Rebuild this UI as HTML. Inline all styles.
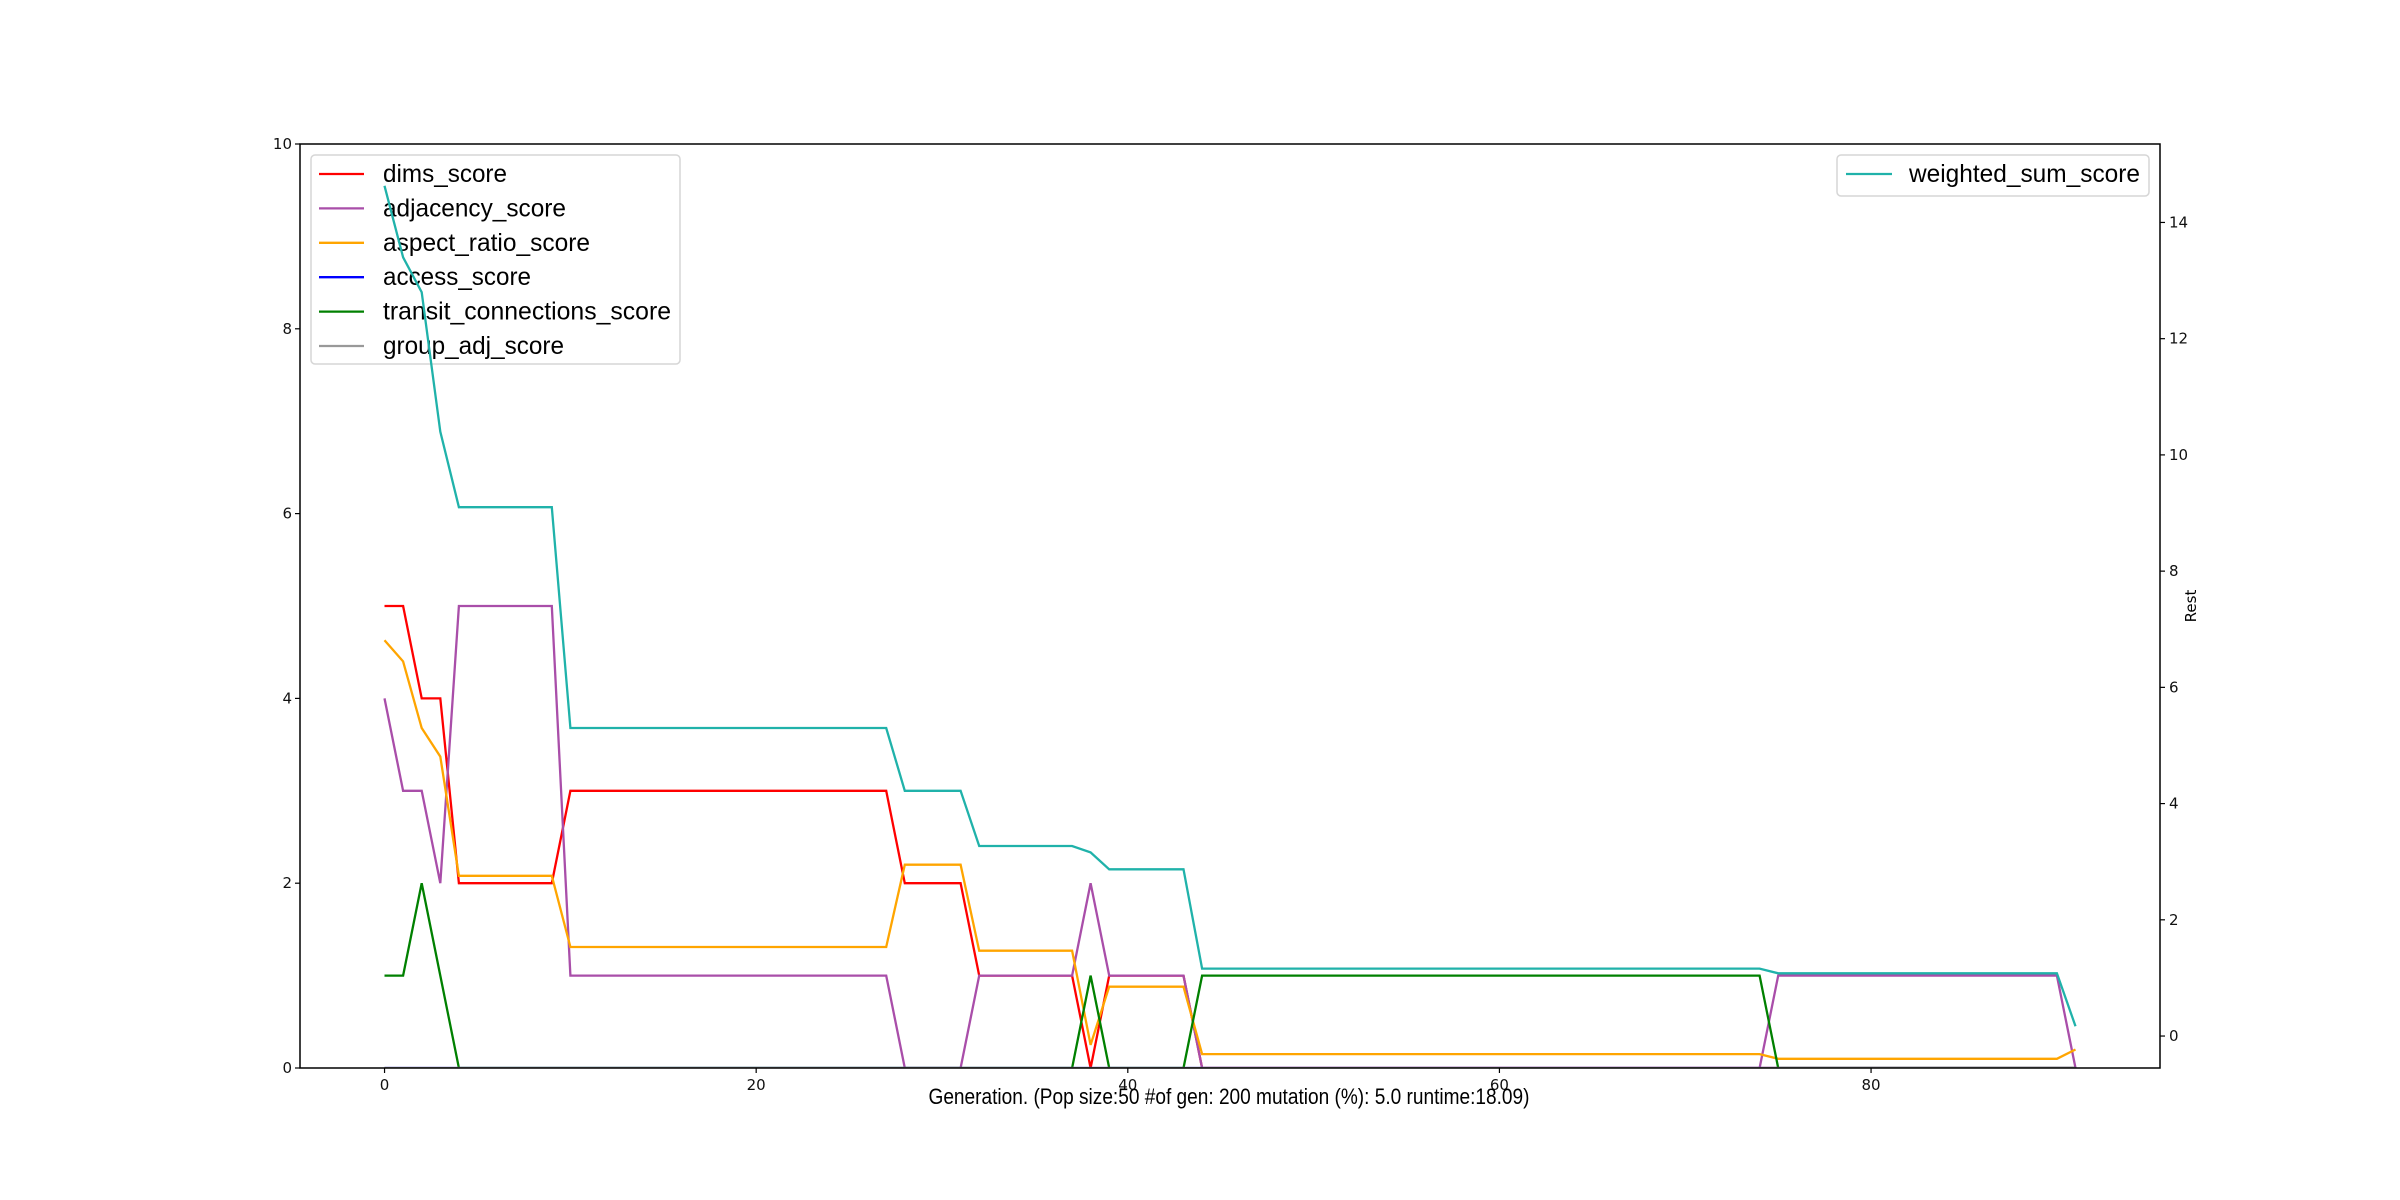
<!DOCTYPE html>
<html><head><meta charset="utf-8"><style>
html,body{margin:0;padding:0;background:#fff;}
svg{display:block;font-family:"DejaVu Sans","Liberation Sans",sans-serif;}
.lab{font-family:"Liberation Sans","DejaVu Sans",sans-serif;}
</style></head><body>
<svg id="chart" width="2400" height="1200" viewBox="0 0 2400 1200" xmlns="http://www.w3.org/2000/svg">
<rect x="0" y="0" width="2400" height="1200" fill="#fff"/>
<g id="plot"></g>
</svg>
<script>
const xTicks = [0, 20, 40, 60, 80];
const yLeftTicks = [0, 2, 4, 6, 8, 10];
const yRightTicks = [0, 2, 4, 6, 8, 10, 12, 14];
const dimsScore = [5,5,4,4,2,2,2,2,2,2,3,3,3,3,3,3,3,3,3,3,3,3,3,3,3,3,3,3,2,2,2,2,1,1,1,1,1,1,0,1,1,1,1,1,0,0,0,0,0,0,0,0,0,0,0,0,0,0,0,0,0,0,0,0,0,0,0,0,0,0,0,0,0,0,0,0,0,0,0,0,0,0,0,0,0,0,0,0,0,0,0,0];
const adjacencyScore = [4,3,3,2,5,5,5,5,5,5,1,1,1,1,1,1,1,1,1,1,1,1,1,1,1,1,1,1,0,0,0,0,1,1,1,1,1,1,2,1,1,1,1,1,0,0,0,0,0,0,0,0,0,0,0,0,0,0,0,0,0,0,0,0,0,0,0,0,0,0,0,0,0,0,0,1,1,1,1,1,1,1,1,1,1,1,1,1,1,1,1,0];
const aspectRatioScore = [4.63,4.4,3.68,3.37,2.08,2.08,2.08,2.08,2.08,2.08,1.31,1.31,1.31,1.31,1.31,1.31,1.31,1.31,1.31,1.31,1.31,1.31,1.31,1.31,1.31,1.31,1.31,1.31,2.2,2.2,2.2,2.2,1.27,1.27,1.27,1.27,1.27,1.27,0.25,0.88,0.88,0.88,0.88,0.88,0.15,0.15,0.15,0.15,0.15,0.15,0.15,0.15,0.15,0.15,0.15,0.15,0.15,0.15,0.15,0.15,0.15,0.15,0.15,0.15,0.15,0.15,0.15,0.15,0.15,0.15,0.15,0.15,0.15,0.15,0.15,0.1,0.1,0.1,0.1,0.1,0.1,0.1,0.1,0.1,0.1,0.1,0.1,0.1,0.1,0.1,0.1,0.2];
const accessScore = new Array(92).fill(0);
const transitScore = [1,1,2,1,0,0,0,0,0,0,0,0,0,0,0,0,0,0,0,0,0,0,0,0,0,0,0,0,0,0,0,0,0,0,0,0,0,0,1,0,0,0,0,0,1,1,1,1,1,1,1,1,1,1,1,1,1,1,1,1,1,1,1,1,1,1,1,1,1,1,1,1,1,1,1,0,0,0,0,0,0,0,0,0,0,0,0,0,0,0,0,0];
const groupAdjScore = new Array(92).fill(0);
const weightedSum = [14.63,13.4,12.8,10.4,9.1,9.1,9.1,9.1,9.1,9.1,5.3,5.3,5.3,5.3,5.3,5.3,5.3,5.3,5.3,5.3,5.3,5.3,5.3,5.3,5.3,5.3,5.3,5.3,4.22,4.22,4.22,4.22,3.27,3.27,3.27,3.27,3.27,3.27,3.16,2.87,2.87,2.87,2.87,2.87,1.16,1.16,1.16,1.16,1.16,1.16,1.16,1.16,1.16,1.16,1.16,1.16,1.16,1.16,1.16,1.16,1.16,1.16,1.16,1.16,1.16,1.16,1.16,1.16,1.16,1.16,1.16,1.16,1.16,1.16,1.16,1.08,1.08,1.08,1.08,1.08,1.08,1.08,1.08,1.08,1.08,1.08,1.08,1.08,1.08,1.08,1.08,0.17];

const NS='http://www.w3.org/2000/svg';
const L=300,R=2160,T=144,B=1068;
const xMin=-4.55,xMax=95.55, yLMin=0,yLMax=10, yRMin=-0.55,yRMax=15.35;
const sx=v=>L+(v-xMin)/(xMax-xMin)*(R-L);
const syL=v=>B-(v-yLMin)/(yLMax-yLMin)*(B-T);
const syR=v=>B-(v-yRMin)/(yRMax-yRMin)*(B-T);
const g=document.getElementById('plot');
function el(tag,attrs,parent){const e=document.createElementNS(NS,tag);for(const k in attrs)e.setAttribute(k,attrs[k]);(parent||g).appendChild(e);return e;}

const clip=el('clipPath',{id:'clp'});el('rect',{x:L,y:T,width:R-L,height:B-T},clip);

const seriesList=[
 {name:'dims-score-line',data:dimsScore,color:'#ff0000',ax:syL},
 {name:'adjacency-score-line',data:adjacencyScore,color:'#a94ea9',ax:syL},
 {name:'aspect-ratio-score-line',data:aspectRatioScore,color:'#ffa500',ax:syL},
 {name:'access-score-line',data:accessScore,color:'#0000ff',ax:syL},
 {name:'transit-connections-score-line',data:transitScore,color:'#008000',ax:syL},
 {name:'group-adj-score-line',data:groupAdjScore,color:'#999999',ax:syL},
 {name:'weighted-sum-score-line',data:weightedSum,color:'#20b2aa',ax:syR}
];
function drawSeries(s){
 const pts=s.data.map((v,i)=>sx(i).toFixed(1)+','+s.ax(v).toFixed(1)).join(' ');
 const p=el('polyline',{points:pts,fill:'none',stroke:s.color,'stroke-width':2.3,'clip-path':'url(#clp)'});
 
 
}
seriesList.slice(0,6).forEach(drawSeries);

// left legend (below the twin-axis line)
const lg=el('g',{});


el('rect',{x:311,y:155,width:369,height:209,rx:4,fill:'#fff','fill-opacity':0.8,stroke:'#d6d6d6','stroke-width':1.5},lg);
const labels=['dims_score','adjacency_score','aspect_ratio_score','access_score','transit_connections_score','group_adj_score'];
const widths=[124,183,207,148,288,181];
labels.forEach((lab,i)=>{
 const y=174+i*34.4;
 const e=el('g',{},lg);
 
 
 el('line',{x1:319,y1:y,x2:364,y2:y,stroke:seriesList[i].color,'stroke-width':2.3},e);
 const t=el('text',{x:383,y:y+8,'font-size':25,class:'lab',textLength:widths[i],lengthAdjust:'spacingAndGlyphs'},e);
 t.textContent=lab;
});

drawSeries(seriesList[6]);

// frame
const fr=el('rect',{x:L,y:T,width:R-L,height:B-T,fill:'none',stroke:'#000','stroke-width':1.5});



xTicks.forEach(v=>{
 const x=sx(v);
 el('line',{x1:x,y1:B,x2:x,y2:B+5,stroke:'#000','stroke-width':1.2});
 const t=el('text',{x:x,y:B+22,'font-size':15,'text-anchor':'middle',fill:'#111'});
 t.textContent=v;
 
 
});
yLeftTicks.forEach(v=>{
 const y=syL(v);
 el('line',{x1:L-5,y1:y,x2:L,y2:y,stroke:'#000','stroke-width':1.2});
 const t=el('text',{x:L-8,y:y+5,'font-size':15,'text-anchor':'end',fill:'#111'});
 t.textContent=v;
 
 
});
yRightTicks.forEach(v=>{
 const y=syR(v);
 el('line',{x1:R,y1:y,x2:R+5,y2:y,stroke:'#000','stroke-width':1.2});
 const t=el('text',{x:R+9,y:y+5,'font-size':15,'text-anchor':'start',fill:'#111'});
 t.textContent=v;
 
 
});
const yr=el('text',{x:0,y:0,'font-size':15,'text-anchor':'middle',transform:'translate(2196,606) rotate(-90)'});
yr.textContent='Rest';


const xl=el('text',{x:1229,y:1104,'font-size':22,class:'lab','text-anchor':'middle',textLength:601,lengthAdjust:'spacingAndGlyphs'});
xl.textContent='Generation. (Pop size:50 #of gen: 200 mutation (%): 5.0 runtime:18.09)';



const rg=el('g',{});


el('rect',{x:1837,y:155,width:312,height:41,rx:4,fill:'#fff','fill-opacity':0.8,stroke:'#d6d6d6','stroke-width':1.5},rg);
el('line',{x1:1846,y1:174,x2:1892,y2:174,stroke:'#20b2aa','stroke-width':2.3},rg);
const rt=el('text',{x:1909,y:182,'font-size':25,class:'lab',textLength:231,lengthAdjust:'spacingAndGlyphs'},rg);
rt.textContent='weighted_sum_score';
</script>
</body></html>
